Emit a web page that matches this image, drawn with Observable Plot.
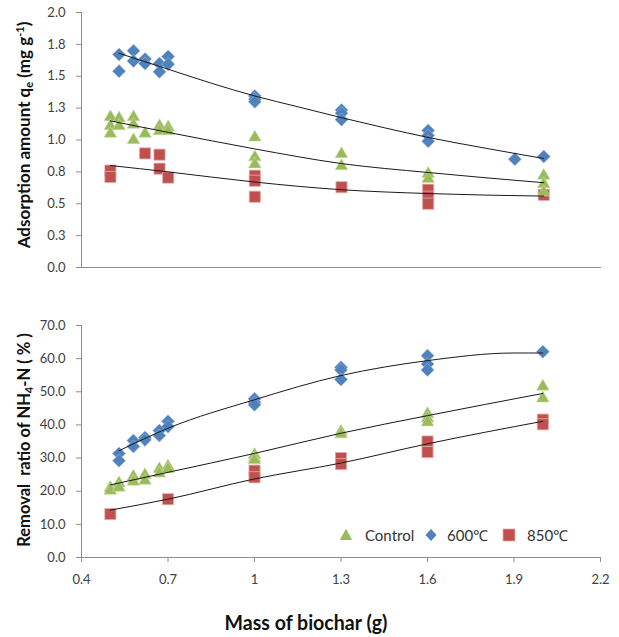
<!DOCTYPE html>
<html>
<head>
<meta charset="utf-8">
<script src="https://cdn.jsdelivr.net/npm/d3@7"></script>
<script src="https://cdn.jsdelivr.net/npm/@observablehq/plot@0.6"></script>
<style>
  html, body { margin: 0; padding: 0; background: #fff; }
  #chart { position: relative; width: 619px; height: 637px; font-family: Lato, "Open Sans", sans-serif; }
  #chart svg { display: block; }
  .leg { position: absolute; top: 524px; font-size: 15px; color: #333; line-height: 22px; font-family: Lato, sans-serif; }
</style>
</head>
<body>
<div id="chart"></div>
<script>
// ---------- ticks ----------
const massTicks = [0.4, 0.7, 1, 1.3, 1.6, 1.9, 2.2];
const massTickLabels = ["0.4", "0.7", "1", "1.3", "1.6", "1.9", "2.2"];
const qeTicks = [0, 0.25, 0.5, 0.75, 1, 1.25, 1.5, 1.75, 2];
const qeTickLabels = ["0.0", "0.3", "0.5", "0.8", "1.0", "1.3", "1.5", "1.8", "2.0"];
const remTicks = [0, 10, 20, 30, 40, 50, 60, 70];
const remTickLabels = ["0.0", "10.0", "20.0", "30.0", "40.0", "50.0", "60.0", "70.0"];

// ---------- series labels / colours ----------
const seriesNames = ["Control", "600\u2103", "850\u2103"];
const seriesColors = ["#9BBB59", "#4F81BD", "#C0504D"];

// ---------- top panel: adsorption amount qe ----------
const qeControlMass = [0.5,0.5,0.5, 0.53,0.53, 0.58,0.58,0.58, 0.62, 0.67,0.67, 0.7,0.7, 1.0,1.0,1.0, 1.3,1.3, 1.6,1.6, 2.0,2.0,2.0];
const qeControl     = [1.18,1.11,1.05, 1.17,1.11, 1.18,1.12,1.00, 1.05, 1.11,1.07, 1.10,1.07, 1.02,0.865,0.81, 0.89,0.795, 0.735,0.695, 0.72,0.655,0.59];
const qe600Mass = [0.53,0.53, 0.58,0.58, 0.62,0.62, 0.67,0.67, 0.7,0.7, 1.0,1.0,1.0, 1.3,1.3,1.3, 1.6,1.6,1.6, 1.9, 2.0];
const qe600     = [1.67,1.54, 1.70,1.62, 1.635,1.60, 1.60,1.535, 1.655,1.595, 1.345,1.32,1.30, 1.235,1.21,1.16, 1.075,1.035,0.99, 0.85, 0.87];
const qe850Mass = [0.5,0.5, 0.62, 0.67,0.67, 0.7, 1.0,1.0,1.0, 1.3, 1.6,1.6,1.6, 2.0];
const qe850     = [0.76,0.71, 0.895, 0.885,0.775, 0.705, 0.72,0.68,0.555, 0.63, 0.61,0.555,0.50, 0.57];

// trend lines
const qeControlTrendMass = [0.5, 0.7, 1.0, 1.3, 1.6, 2.0];
const qeControlTrend     = [1.15, 1.06, 0.93, 0.815, 0.745, 0.665];
const qe600TrendMass = [0.53, 0.7, 0.85, 1.0, 1.15, 1.3, 1.45, 1.6, 1.8, 2.0];
const qe600Trend     = [1.68, 1.555, 1.445, 1.345, 1.26, 1.175, 1.095, 1.02, 0.935, 0.855];
const qe850TrendMass = [0.5, 0.7, 1.0, 1.3, 1.6, 2.0];
const qe850Trend     = [0.80, 0.75, 0.67, 0.61, 0.58, 0.56];

// ---------- bottom panel: removal ratio ----------
const remControlMass = [0.5,0.5, 0.53,0.53, 0.58,0.58, 0.62,0.62, 0.67,0.67, 0.7,0.7, 1.0,1.0,1.0, 1.3,1.3, 1.6,1.6,1.6, 2.0,2.0];
const remControl     = [21.0,20.2, 22.4,21.1, 24.4,22.9, 24.9,23.2, 26.7,25.4, 27.5,26.7, 31.0,30.0,29.4, 38.0,37.2, 43.3,42.0,40.8, 51.6,48.0];
const rem600Mass = [0.53,0.53, 0.58,0.58, 0.62,0.62, 0.67,0.67, 0.7,0.7, 1.0,1.0,1.0, 1.3,1.3,1.3, 1.6,1.6,1.6, 2.0];
const rem600     = [31.4,29.2, 35.3,33.5, 36.2,35.5, 38.3,36.8, 41.1,39.5, 47.9,46.8,46.1, 57.4,56.6,53.7, 60.9,58.4,56.6, 62.1];
const rem850Mass = [0.5, 0.7, 1.0,1.0, 1.3,1.3, 1.6,1.6, 2.0,2.0];
const rem850     = [13.1, 17.6, 26.2,24.2, 30.0,28.2, 35.0,31.8, 41.6,40.2];

const remControlTrendMass = [0.5, 0.7, 1.0, 1.3, 1.6, 2.0];
const remControlTrend     = [21.9, 25.7, 31.4, 37.5, 42.8, 49.5];
const rem600TrendMass = [0.53, 0.7, 1.0, 1.3, 1.6, 1.9, 2.0];
const rem600Trend     = [32.2, 39.0, 47.6, 54.9, 59.4, 61.7, 61.7];
const rem850TrendMass = [0.5, 0.7, 1.0, 1.3, 1.6, 2.0];
const rem850Trend     = [14.3, 17.6, 23.7, 28.5, 34.3, 41.1];

// ---------- helpers ----------
const rows = (xs, ys) => xs.map((x, i) => ({x, y: ys[i]}));
const fmtFrom = (ticks, labels) => d => labels[ticks.indexOf(d)];
const axisGray = "#8c8c8c";
const tickText = "#404040";
const baseStyle = {fontFamily: "Lato, 'Open Sans', sans-serif", fontSize: "13px", background: "white", overflow: "visible"};

function seriesMarks(ctrl, s600, s850, tC, t6, t8) {
  return [
    Plot.dot(s850, {x: "x", y: "y", symbol: "square", r: 6.3, fill: seriesColors[2], stroke: "#e3aeac", strokeWidth: 0.8}),
    Plot.dot(s600, {x: "x", y: "y", symbol: "diamond2", r: 5.9, fill: seriesColors[1], stroke: "#9fb8da", strokeWidth: 0.6}),
    Plot.dot(ctrl, {x: "x", y: "y", symbol: "triangle", r: 4.7, fill: seriesColors[0], stroke: "#c9dbab", strokeWidth: 0.6}),
    Plot.line(tC, {x: "x", y: "y", stroke: "#1a1a1a", strokeWidth: 1, curve: "monotone-x"}),
    Plot.line(t6, {x: "x", y: "y", stroke: "#1a1a1a", strokeWidth: 1, curve: "monotone-x"}),
    Plot.line(t8, {x: "x", y: "y", stroke: "#1a1a1a", strokeWidth: 1, curve: "monotone-x"})
  ];
}

const topPlot = Plot.plot({
  width: 619, height: 290,
  marginLeft: 81, marginRight: 18, marginTop: 12, marginBottom: 23,
  style: baseStyle,
  x: {domain: [0.4, 2.2], axis: null},
  y: {domain: [0, 2]},
  marks: [
    Plot.axisY(qeTicks, {tickSize: 5, tickPadding: 11, tickFormat: fmtFrom(qeTicks, qeTickLabels), stroke: axisGray, fill: tickText, label: null}),
    Plot.ruleX([0.4], {stroke: axisGray}),
    Plot.ruleY([0], {stroke: axisGray}),
    ...seriesMarks(
      rows(qeControlMass, qeControl), rows(qe600Mass, qe600), rows(qe850Mass, qe850),
      rows(qeControlTrendMass, qeControlTrend), rows(qe600TrendMass, qe600Trend), rows(qe850TrendMass, qe850Trend))
  ]
});

const bottomPlot = Plot.plot({
  width: 619, height: 347,
  marginLeft: 81, marginRight: 19, marginTop: 35, marginBottom: 80,
  style: baseStyle,
  x: {domain: [0.4, 2.2]},
  y: {domain: [0, 70]},
  marks: [
    Plot.axisY(remTicks, {tickSize: 5, tickPadding: 11, tickFormat: fmtFrom(remTicks, remTickLabels), stroke: axisGray, fill: tickText, label: null}),
    Plot.axisX(massTicks, {tickSize: 5, tickPadding: 12, tickFormat: fmtFrom(massTicks, massTickLabels), stroke: axisGray, fill: tickText, label: null}),
    Plot.ruleX([0.4], {stroke: axisGray}),
    Plot.ruleY([0], {stroke: axisGray}),
    ...seriesMarks(
      rows(remControlMass, remControl), rows(rem600Mass, rem600), rows(rem850Mass, rem850),
      rows(remControlTrendMass, remControlTrend), rows(rem600TrendMass, rem600Trend), rows(rem850TrendMass, rem850Trend))
  ]
});

const chart = document.getElementById("chart");
chart.appendChild(topPlot);
chart.appendChild(bottomPlot);

// ---------- axis titles ----------
const titleFont = "Lato, 'Open Sans', sans-serif";
const tY = d3.select(topPlot).append("text")
  .attr("transform", "translate(30,135) rotate(-90)")
  .attr("text-anchor", "middle")
  .attr("font-family", titleFont).attr("font-weight", "bold").attr("font-size", 17).attr("fill", "#111");
tY.append("tspan").text("Adsorption amount q");
tY.append("tspan").attr("font-size", 11).attr("dy", 3).text("e");
tY.append("tspan").attr("dy", -3).text(" (mg g");
tY.append("tspan").attr("font-size", 11).attr("dy", -6).text("-1");
tY.append("tspan").attr("dy", 6).text(")");

const bY = d3.select(bottomPlot).append("text")
  .attr("transform", "translate(30,150) rotate(-90)")
  .attr("text-anchor", "middle")
  .attr("font-family", titleFont).attr("font-weight", "bold").attr("font-size", 16.5).attr("fill", "#111");
bY.append("tspan").text("Removal  ratio of NH");
bY.append("tspan").attr("font-size", 11).attr("dy", 3).text("4");
bY.append("tspan").attr("dy", -3).text("-N ( % )");

d3.select(bottomPlot).append("text")
  .attr("x", 306).attr("y", 340)
  .attr("text-anchor", "middle")
  .attr("font-family", titleFont).attr("font-weight", "bold").attr("font-size", 20).attr("fill", "#111")
  .attr("textLength", 163).attr("lengthAdjust", "spacingAndGlyphs")
  .text("Mass of biochar (g)");

// ---------- legend ----------
const legendSymbols = [
  '<svg width="14" height="14" viewBox="-7 -7 14 14"><path d="M0,-6.3L6.2,5L-6.2,5Z" fill="' + seriesColors[0] + '"/></svg>',
  '<svg width="14" height="14" viewBox="-7 -7 14 14"><path d="M0,-6L5.5,0L0,6L-5.5,0Z" fill="' + seriesColors[1] + '"/></svg>',
  '<svg width="14" height="14" viewBox="-7 -7 14 14"><rect x="-6" y="-6" width="12" height="12" fill="' + seriesColors[2] + '" stroke="#e3aeac" stroke-width="0.8"/></svg>'
];
const legendLeft = [339, 424, 502];
seriesNames.forEach((name, i) => {
  const d = document.createElement("div");
  d.className = "leg";
  d.style.left = legendLeft[i] + "px";
  d.style.display = "flex";
  d.style.alignItems = "center";
  d.style.gap = i === 0 ? "12px" : (i === 1 ? "9px" : "11px");
  d.innerHTML = legendSymbols[i] + '<span>' + name + '</span>';
  chart.appendChild(d);
});
</script>
</body>
</html>
